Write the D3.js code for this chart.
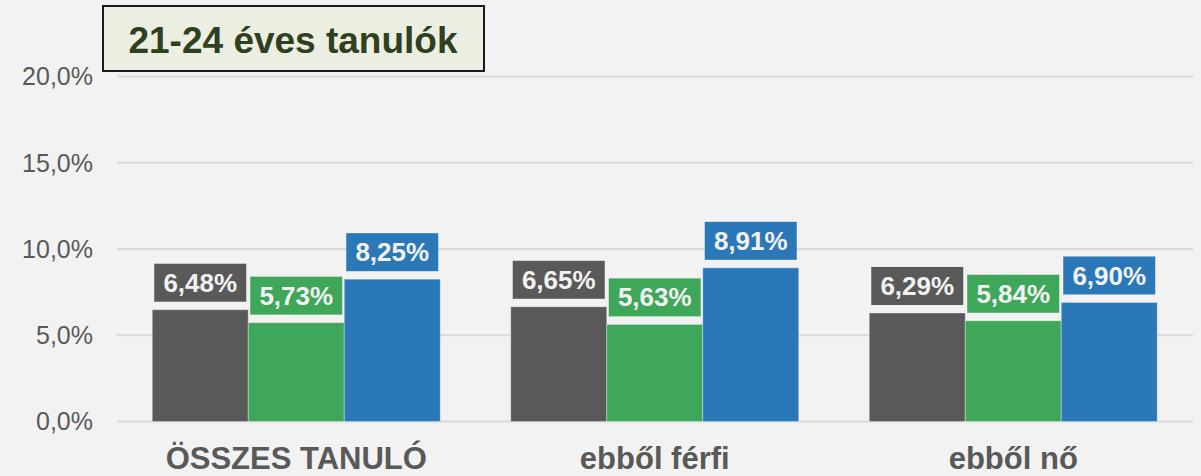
<!DOCTYPE html>
<html><head><meta charset="utf-8">
<script src="https://cdn.jsdelivr.net/npm/d3@7"></script>
<style>
html,body{margin:0;padding:0;background:#f2f2f2;}
svg{display:block;font-family:"Liberation Sans",Arial,sans-serif;}
</style></head>
<body><svg id="c" width="1201" height="476"></svg>
<script>
const categories = ["ÖSSZES TANULÓ", "ebből férfi", "ebből nő"];
const seriesNames = ["s1", "s2", "s3"];
const series1 = [6.48, 6.65, 6.29];
const series2 = [5.73, 5.63, 5.84];
const series3 = [8.25, 8.91, 6.90];
const yTicks = [0, 5, 10, 15, 20];
const title = "21-24 éves tanulók";
const colors = ["#595959", "#3ea75a", "#2a78b8"];

const W = 1201, H = 476;
const svg = d3.select("#c");
svg.append("rect").attr("width", W).attr("height", H).attr("fill", "#f2f2f2");

const x0 = d3.scaleBand().domain(categories).range([117, 1192.5]).paddingInner(0).paddingOuter(0);
const x1 = d3.scaleBand().domain(seriesNames).range([35.25, x0.bandwidth() - 35.25]).padding(0);
const y = d3.scaleLinear().domain([0, 20]).range([421.5, 76.5]);

const fmt = v => d3.format(".1f")(v).replace(".", ",") + "%";
const fmt2 = v => d3.format(".2f")(v).replace(".", ",") + "%";

// gridlines
svg.append("g").selectAll("line").data(yTicks).join("line")
  .attr("x1", 117).attr("x2", 1193)
  .attr("y1", d => y(d)).attr("y2", d => y(d))
  .attr("stroke", "#d9d9d9").attr("stroke-width", 2);

// y labels
svg.append("g").selectAll("text").data(yTicks).join("text")
  .attr("x", 93).attr("y", d => y(d)).attr("dy", "0.35em")
  .attr("text-anchor", "end").attr("font-size", 25).attr("fill", "#595959")
  .text(d => fmt(d));

const data = [series1, series2, series3];
const rows = [];
categories.forEach((c, i) => {
  seriesNames.forEach((s, j) => rows.push({cat: c, s, j, v: data[j][i]}));
});

const bars = svg.append("g");
bars.selectAll("rect").data(rows).join("rect")
  .attr("x", d => x0(d.cat) + x1(d.s))
  .attr("y", d => y(d.v))
  .attr("width", x1.bandwidth())
  .attr("height", d => y(0) - y(d.v))
  .attr("fill", d => colors[d.j])
  .attr("stroke", "rgba(255,255,255,0.35)").attr("stroke-width", 1);

// data labels
const lab = svg.append("g");
rows.forEach(d => {
  const cx = x0(d.cat) + x1(d.s) + x1.bandwidth() / 2;
  const bottom = y(d.v) - 8;
  lab.append("rect")
    .attr("x", cx - 46).attr("y", bottom - 38)
    .attr("width", 92).attr("height", 38)
    .attr("fill", colors[d.j]);
  lab.append("text")
    .attr("x", cx).attr("y", bottom - 19).attr("dy", "0.35em")
    .attr("text-anchor", "middle").attr("font-size", 26).attr("font-weight", "bold")
    .attr("fill", "#f2f2f2").text(fmt2(d.v));
});

// x labels
svg.append("g").selectAll("text").data(categories).join("text")
  .attr("x", d => x0(d) + x0.bandwidth() / 2).attr("y", 469)
  .attr("text-anchor", "middle").attr("font-size", 31).attr("font-weight", "bold")
  .attr("fill", "#595959").text(d => d);

// title box
svg.append("rect").attr("x", 103).attr("y", 6).attr("width", 381).attr("height", 65)
  .attr("fill", "#ebeee1").attr("stroke", "#1a1a1a").attr("stroke-width", 2);
svg.append("text").attr("x", 293).attr("y", 53).attr("text-anchor", "middle")
  .attr("font-size", 37).attr("font-weight", "bold").attr("fill", "#2f4020").text(title);
</script></body></html>
